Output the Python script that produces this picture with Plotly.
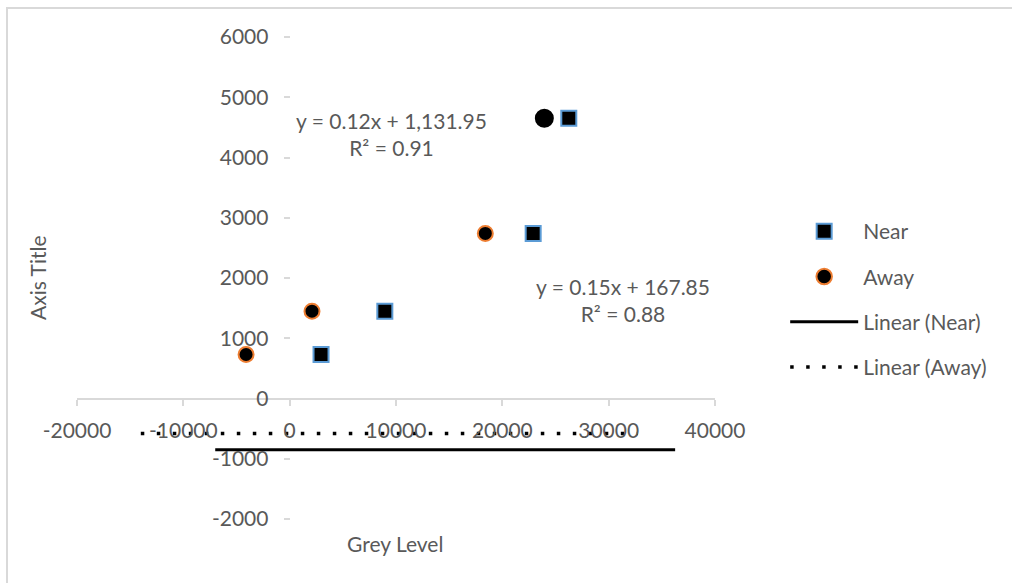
import plotly.graph_objects as go

# ---- data ----
near_x = [2950, 8950, 22900, 26250]
near_y = [730, 1450, 2740, 4650]

away_x = [-4100, 2100, 18400, 23950]
away_y = [730, 1450, 2740, 4650]

# trendlines as rendered in the reference (flat lines below the x axis)
near_trend_x = [-7000, 36250]
near_trend_y = [-850, -850]
away_trend_x = [-14000, 32750]
away_trend_y = [-580, -580]

x_ticks = [-20000, -10000, 0, 10000, 20000, 30000, 40000]
y_ticks = [-2000, -1000, 0, 1000, 2000, 3000, 4000, 5000, 6000]

eq_near = "y = 0.15x + 167.85<br>R² = 0.88"
eq_away = "y = 0.12x + 1,131.95<br>R² = 0.91"

FONT = "Lato"
TXT = "#595959"
AX = "#D9D9D9"
FS = 21

fig = go.Figure()
fig.add_trace(go.Scatter(
    x=near_x, y=near_y, mode="markers", name="Near", legendgroup="a",
    marker=dict(symbol="square", size=15, color="#000000", opacity=1,
                line=dict(color="#5B9BD5", width=2))))
fig.add_trace(go.Scatter(
    x=away_x, y=away_y, mode="markers", name="Away", legendgroup="b",
    marker=dict(symbol="circle", size=[15, 15, 15, 17], color="#000000", opacity=1,
                line=dict(color=["#ED7D31", "#ED7D31", "#ED7D31", "#000000"], width=2))))
fig.add_trace(go.Scatter(
    x=near_trend_x, y=near_trend_y, mode="lines", name="Linear (Near)", legendgroup="c",
    line=dict(color="black", width=3)))
fig.add_trace(go.Scatter(
    x=away_trend_x, y=away_trend_y, mode="lines", name="Linear (Away)", legendgroup="d",
    line=dict(color="black", width=3.5, dash="3.5px,12.5px")))

fig.update_layout(
    width=1012, height=583,
    margin=dict(l=77, r=297, t=37, b=64),
    paper_bgcolor="white", plot_bgcolor="white",
    font=dict(family=FONT, size=FS, color=TXT),
    showlegend=True,
    legend=dict(x=1.11, y=0.639, xanchor="left", yanchor="top",
                itemwidth=68, tracegroupgap=15,
                font=dict(family=FONT, size=FS, color=TXT),
                bgcolor="rgba(0,0,0,0)"),
    xaxis=dict(range=[-20000, 40000], tickvals=x_ticks, ticktext=[str(v) for v in x_ticks],
               anchor="free", position=0.25, showline=True, linecolor=AX, linewidth=2,
               ticks="outside", ticklen=6, tickcolor=AX, tickwidth=2,
               showgrid=False, zeroline=False, ticklabelstandoff=7,
               tickfont=dict(family=FONT, size=FS, color=TXT)),
    yaxis=dict(range=[-2000, 6000], tickvals=y_ticks, ticktext=[str(v) for v in y_ticks],
               anchor="free", position=1/3, showline=False,
               ticks="outside", ticklen=6, tickcolor=AX, tickwidth=2,
               showgrid=False, zeroline=False, ticklabelstandoff=11,
               tickfont=dict(family=FONT, size=FS, color=TXT)),
    shapes=[dict(type="rect", xref="paper", yref="paper",
                 x0=-0.1097, x1=1.5, y0=-0.2, y1=1.0602,
                 line=dict(color=AX, width=2), fillcolor="rgba(0,0,0,0)", layer="below")],
    annotations=[
        dict(text="Axis Title", xref="paper", yref="paper", x=(37 - 77) / 638, y=0.5,
             xanchor="center", yanchor="middle",
             textangle=-90, showarrow=False, font=dict(family=FONT, size=FS, color=TXT)),
        dict(text="Grey Level", xref="paper", yref="paper", x=(395 - 77) / 638,
             y=(519 - 543) / 482, xanchor="center", yanchor="middle",
             showarrow=False, font=dict(family=FONT, size=FS, color=TXT)),
        dict(text=eq_away, xref="x", yref="y", x=9530, y=4383, showarrow=False,
             xanchor="center", yanchor="middle",
             font=dict(family=FONT, size=FS, color=TXT)),
        dict(text=eq_near, xref="x", yref="y", x=31355, y=1633, showarrow=False,
             xanchor="center", yanchor="middle",
             font=dict(family=FONT, size=FS, color=TXT)),
    ],
)

fig.write_html("out.html")
